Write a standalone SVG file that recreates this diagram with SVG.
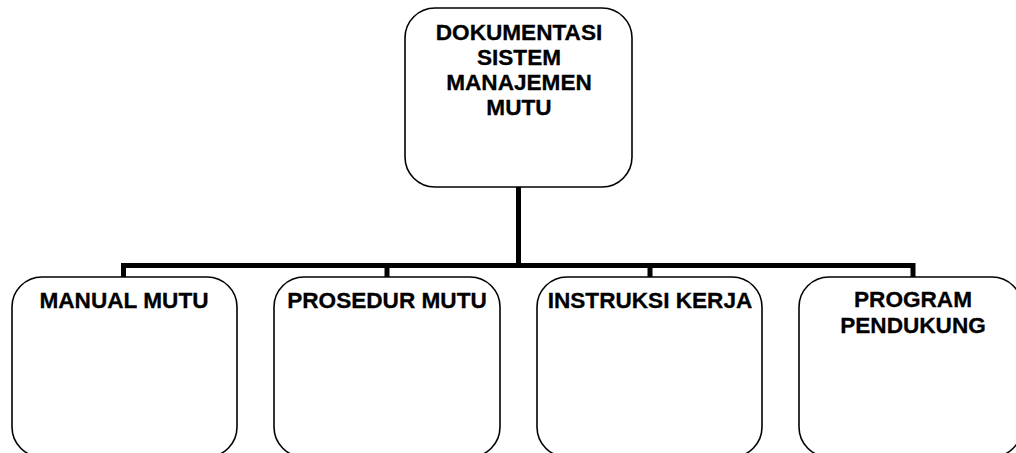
<svg xmlns="http://www.w3.org/2000/svg" width="1016" height="453" viewBox="0 0 1016 453">
<style>
.box{fill:#fff;stroke:#000;stroke-width:1.6}
.lbl{font-family:"Liberation Sans",Arial,sans-serif;font-weight:bold;font-size:22.6px;fill:#000;stroke:#000;stroke-width:0.3;text-anchor:middle}
.conn{stroke:#000;stroke-width:5;fill:none}
</style>
<rect width="1016" height="453" fill="#fff"/>
<g id="connectors">
<path class="conn" d="M518.5,187 V265.5 M123,265.5 H913.5 M123.5,263 V277 M387,265.5 V277 M650,265.5 V277 M913,263 V277"/>
</g>
<g id="root">
<rect class="box" x="405" y="8" width="227" height="179" rx="30" ry="30"/>
<text class="lbl" x="519" y="40">DOKUMENTASI</text>
<text class="lbl" x="519" y="65">SISTEM</text>
<text class="lbl" x="519" y="90">MANAJEMEN</text>
<text class="lbl" x="519" y="115">MUTU</text>
</g>
<g id="manual">
<rect class="box" x="12" y="277" width="225" height="180" rx="30" ry="30"/>
<text class="lbl" x="124" y="308">MANUAL MUTU</text>
</g>
<g id="prosedur">
<rect class="box" x="274" y="277" width="226" height="180" rx="30" ry="30"/>
<text class="lbl" x="387" y="308">PROSEDUR MUTU</text>
</g>
<g id="instruksi">
<rect class="box" x="537" y="277" width="225" height="180" rx="30" ry="30"/>
<text class="lbl" x="650" y="308">INSTRUKSI KERJA</text>
</g>
<g id="program">
<rect class="box" x="799" y="277" width="223" height="180" rx="30" ry="30"/>
<text class="lbl" x="913" y="307">PROGRAM</text>
<text class="lbl" x="913" y="333">PENDUKUNG</text>
</g>
</svg>
